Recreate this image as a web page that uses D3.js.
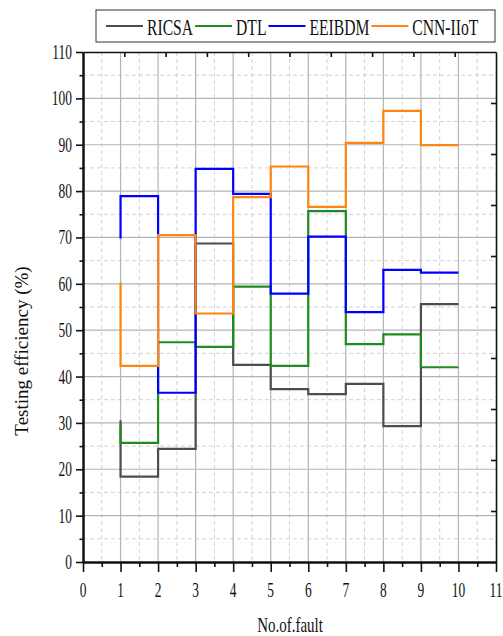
<!DOCTYPE html>
<html>
<head>
<meta charset="utf-8">
<script src="https://cdn.jsdelivr.net/npm/d3@7"></script>
<style>
  body { margin: 0; background: #fff; }
  svg { display: block; }
  text { font-family: "Liberation Serif", "DejaVu Serif", serif; fill: #111; }
</style>
</head>
<body>
<svg id="chart" width="503" height="636"></svg>
<script>
// x positions (No. of fault); first point is the starting level at x=1
var faults = [1, 2, 3, 4, 5, 6, 7, 8, 9, 10];
var ricsa   = [30.6, 18.4, 24.4, 68.7, 42.5, 37.3, 36.2, 38.4, 29.3, 55.6];
var dtl     = [29.6, 25.7, 47.4, 46.4, 59.4, 42.3, 75.7, 47.0, 49.1, 42.0];
var eeibdm  = [69.8, 78.9, 36.5, 84.8, 79.4, 57.9, 70.2, 53.9, 63.0, 62.4];
var cnniot  = [60.3, 42.3, 70.5, 53.6, 78.7, 85.3, 76.6, 90.4, 97.3, 89.9];
var seriesNames  = ["RICSA", "DTL", "EEIBDM", "CNN-IIoT"];
var seriesColors = ["#4d4d4d", "#1e8c1e", "#0000ff", "#ff8410"];
var xTicks = [0, 1, 2, 3, 4, 5, 6, 7, 8, 9, 10, 11];
var yTicks = [0, 10, 20, 30, 40, 50, 60, 70, 80, 90, 100, 110];

var allSeries = [ricsa, dtl, eeibdm, cnniot];

var svg = d3.select("#chart");
var plotL = 83, plotR = 496, plotT = 52, plotB = 562;

var x = d3.scaleLinear().domain([0, 11]).range([plotL, plotR]);
var y = d3.scaleLinear().domain([0, 110]).range([plotB, plotT]);
// the frame's top and right edges carry their own 0..10 tick marks
var xTop = d3.scaleLinear().domain([0, 10]).range([plotL, plotR]);
var yRight = d3.scaleLinear().domain([0, 10]).range([plotB, plotT]);

// narrow text, like the squeezed serif labels of the original
function label(g, px, py, str, anchor, size, sq) {
  return g.append("text")
    .attr("transform", "translate(" + px + "," + py + ") scale(" + sq + ",1)")
    .attr("text-anchor", anchor)
    .style("font-size", size + "px")
    .text(str);
}

// grid
var grid = svg.append("g");
var halfX = d3.range(0.5, 11, 1), halfY = d3.range(5, 110, 10);
grid.selectAll(".gxm").data(halfX).enter().append("line")
  .attr("x1", d => x(d)).attr("x2", d => x(d)).attr("y1", plotT).attr("y2", plotB)
  .attr("stroke", "#d2d2d2").attr("stroke-width", 1).attr("stroke-dasharray", "4,3");
grid.selectAll(".gym").data(halfY).enter().append("line")
  .attr("x1", plotL).attr("x2", plotR).attr("y1", d => y(d)).attr("y2", d => y(d))
  .attr("stroke", "#d2d2d2").attr("stroke-width", 1).attr("stroke-dasharray", "4,3");
grid.selectAll(".gx").data(xTicks.slice(1, -1)).enter().append("line")
  .attr("x1", d => x(d)).attr("x2", d => x(d)).attr("y1", plotT).attr("y2", plotB)
  .attr("stroke", "#b4b4b4").attr("stroke-width", 1.2);
grid.selectAll(".gy").data(yTicks.slice(1, -1)).enter().append("line")
  .attr("x1", plotL).attr("x2", plotR).attr("y1", d => y(d)).attr("y2", d => y(d))
  .attr("stroke", "#b4b4b4").attr("stroke-width", 1.2);

// step lines
var line = d3.line()
  .x((d, i) => x(faults[i]))
  .y(d => y(d))
  .curve(d3.curveStepBefore);

svg.selectAll(".series").data(allSeries).enter().append("path")
  .attr("d", d => line(d))
  .attr("fill", "none")
  .attr("stroke", (d, i) => seriesColors[i])
  .attr("stroke-width", 2.2);

// axes
var axisStyle = function(g, w) {
  g.select(".domain").attr("stroke", "#111").attr("stroke-width", w);
  g.selectAll(".tick line").attr("stroke", "#111").attr("stroke-width", 1.6);
  g.selectAll(".tick text").remove();
};

svg.append("g").attr("transform", "translate(0," + plotB + ")")
  .call(d3.axisBottom(x).tickValues(halfX).tickSize(5).tickSizeOuter(0).tickFormat(""))
  .call(g => axisStyle(g, 2));
svg.append("g").attr("transform", "translate(0," + plotB + ")")
  .call(d3.axisBottom(x).tickValues(xTicks).tickSize(10).tickSizeOuter(0).tickFormat(""))
  .call(g => axisStyle(g, 2));
svg.append("g").attr("transform", "translate(" + plotL + ",0)")
  .call(d3.axisLeft(y).tickValues(halfY).tickSize(3.5).tickSizeOuter(0).tickFormat(""))
  .call(g => axisStyle(g, 2));
svg.append("g").attr("transform", "translate(" + plotL + ",0)")
  .call(d3.axisLeft(y).tickValues(yTicks).tickSize(7).tickSizeOuter(0).tickFormat(""))
  .call(g => axisStyle(g, 2));
svg.append("g").attr("transform", "translate(0," + plotT + ")")
  .call(d3.axisTop(xTop).tickValues(d3.range(1, 10)).tickSize(-5).tickSizeOuter(0).tickFormat(""))
  .call(g => axisStyle(g, 1.6));
svg.append("g").attr("transform", "translate(" + plotR + ",0)")
  .call(d3.axisRight(yRight).tickValues(d3.range(1, 10)).tickSize(-5).tickSizeOuter(0).tickFormat(""))
  .call(g => axisStyle(g, 1.6));

// tick labels
var labels = svg.append("g");
xTicks.forEach(function(t) { label(labels, x(t), 597, String(t), "middle", 21, 0.64); });
yTicks.forEach(function(t) { label(labels, 72, y(t) + 7, String(t), "end", 21, 0.64); });

// axis titles
label(svg, 290, 632, "No.of.fault", "middle", 22, 0.68);
svg.append("text")
  .attr("transform", "translate(28,351) rotate(-90)")
  .attr("text-anchor", "middle")
  .style("font-size", "19px")
  .text("Testing efficiency (%)");

// legend
var legend = svg.append("g");
legend.append("rect")
  .attr("x", 96).attr("y", 10).attr("width", 399).attr("height", 32)
  .attr("fill", "#fff").attr("stroke", "#333").attr("stroke-width", 1);
var cx = 106;
seriesNames.forEach(function(name, i) {
  legend.append("line")
    .attr("x1", cx).attr("x2", cx + 37).attr("y1", 26).attr("y2", 26)
    .attr("stroke", seriesColors[i]).attr("stroke-width", 2.2);
  var t = label(legend, cx + 41, 35, name, "start", 23, 0.68);
  cx += 41 + t.node().getComputedTextLength() * 0.68 + 2;
});
</script>
</body>
</html>
